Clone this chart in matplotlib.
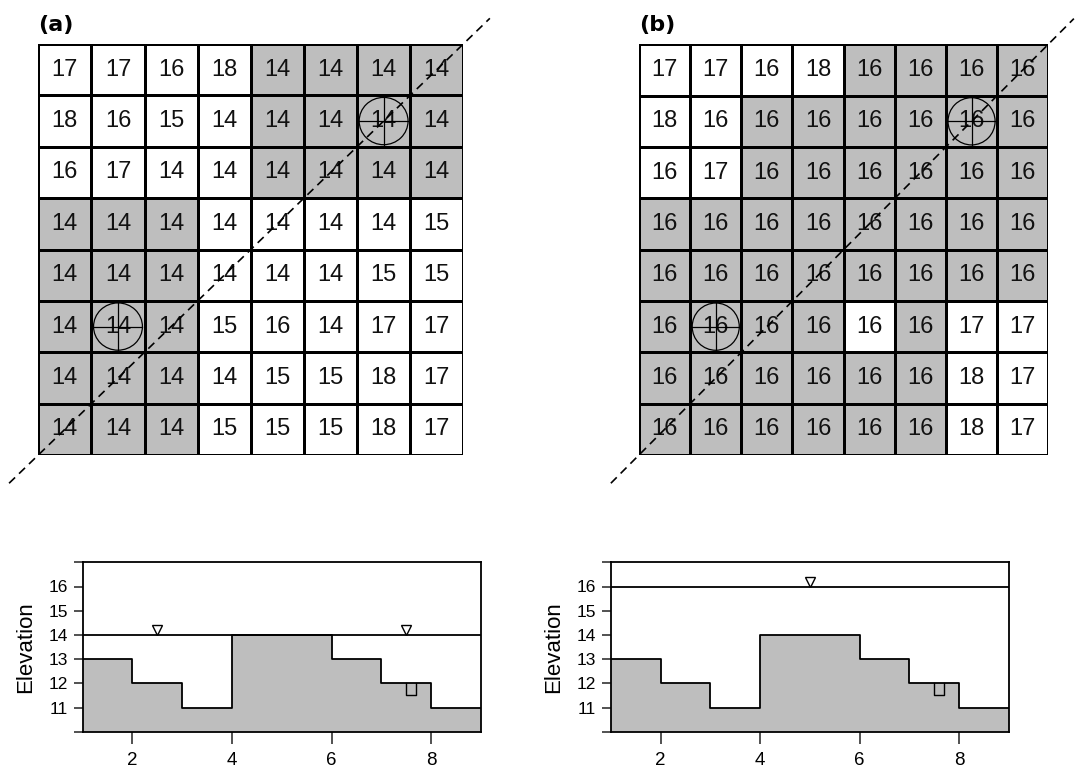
import matplotlib
matplotlib.use("Agg")
import matplotlib.pyplot as plt
import numpy as np
from matplotlib.colors import ListedColormap
from matplotlib.patches import Circle
from matplotlib import transforms

plt.rcParams['font.family'] = ['Liberation Sans', 'DejaVu Sans']

# cell elevations for the two scenarios (row 0 = top row)
elev_a = [[17, 17, 16, 18, 14, 14, 14, 14],
          [18, 16, 15, 14, 14, 14, 14, 14],
          [16, 17, 14, 14, 14, 14, 14, 14],
          [14, 14, 14, 14, 14, 14, 14, 15],
          [14, 14, 14, 14, 14, 14, 15, 15],
          [14, 14, 14, 15, 16, 14, 17, 17],
          [14, 14, 14, 14, 15, 15, 18, 17],
          [14, 14, 14, 15, 15, 15, 18, 17]]
elev_b = [[17, 17, 16, 18, 16, 16, 16, 16],
          [18, 16, 16, 16, 16, 16, 16, 16],
          [16, 17, 16, 16, 16, 16, 16, 16],
          [16, 16, 16, 16, 16, 16, 16, 16],
          [16, 16, 16, 16, 16, 16, 16, 16],
          [16, 16, 16, 16, 16, 16, 17, 17],
          [16, 16, 16, 16, 16, 16, 18, 17],
          [16, 16, 16, 16, 16, 16, 18, 17]]

# 1 = cell belongs to a flooded (connected) region
flood_a = [[0, 0, 0, 0, 1, 1, 1, 1],
           [0, 0, 0, 0, 1, 1, 1, 1],
           [0, 0, 0, 0, 1, 1, 1, 1],
           [1, 1, 1, 0, 0, 0, 0, 0],
           [1, 1, 1, 0, 0, 0, 0, 0],
           [1, 1, 1, 0, 0, 0, 0, 0],
           [1, 1, 1, 0, 0, 0, 0, 0],
           [1, 1, 1, 0, 0, 0, 0, 0]]
flood_b = [[0, 0, 0, 0, 1, 1, 1, 1],
           [0, 0, 1, 1, 1, 1, 1, 1],
           [0, 0, 1, 1, 1, 1, 1, 1],
           [1, 1, 1, 1, 1, 1, 1, 1],
           [1, 1, 1, 1, 1, 1, 1, 1],
           [1, 1, 1, 1, 0, 1, 0, 0],
           [1, 1, 1, 1, 1, 1, 0, 0],
           [1, 1, 1, 1, 1, 1, 0, 0]]

# wells (row, col)
wells = [(1, 6), (5, 1)]

# cross-section profile along the diagonal
prof_x = [1, 2, 3, 4, 5, 6, 7, 8, 9]
prof_z = [13, 12, 11, 14, 14, 13, 12, 11]
well_x = [7.5, 7.7]
well_bottom = 11.5
water_a = 14
water_a_marks = [2.5, 7.5]
water_b = 16
water_b_marks = [5]

GREY = '#BEBEBE'
W, H = 1081, 771

fig = plt.figure(figsize=(W / 100, H / 100), dpi=100)


def px_axes(left, top, right, bottom):
    return fig.add_axes([left / W, 1 - bottom / H, (right - left) / W, (bottom - top) / H])


def draw_grid(ax, elev, flood, label):
    elev = np.array(elev)
    n = elev.shape[0]
    ax.pcolormesh(np.arange(n + 1), np.arange(n + 1), np.array(flood),
                  cmap=ListedColormap(['white', GREY]), vmin=0, vmax=1,
                  edgecolors='black', linewidth=2.0)
    ax.set_xlim(0, n)
    ax.set_ylim(n, 0)
    ax.axis('off')
    for r in range(n):
        for c in range(n):
            ax.text(c + 0.5, r + 0.5, str(elev[r, c]), ha='center', va='center',
                    fontsize=17, color='#111111')
    # diagonal transect
    ax.plot([-0.55, n + 0.5], [n + 0.55, -0.5], color='black', lw=1.2,
            linestyle=(0, (5, 3.3)), clip_on=False, zorder=5)
    for r, c in wells:
        cx, cy = c + 0.5, r + 0.5
        ax.add_patch(Circle((cx, cy), 0.46, fill=False, lw=0.9, color='black', zorder=6))
        ax.plot([cx - 0.46, cx + 0.46], [cy, cy], color='black', lw=0.9, zorder=6)
        ax.plot([cx, cx], [cy - 0.46, cy + 0.46], color='black', lw=0.9, zorder=6)
    ax.text(0, -0.37, label, ha='left', va='center', fontsize=16, fontweight='bold',
            family='DejaVu Sans', transform=ax.transData, clip_on=False)


def draw_profile(ax, level, marks):
    z = prof_z + [prof_z[-1]]
    ax.fill_between(prof_x, z, 10, step='post', color=GREY, lw=0)
    ax.step(prof_x, z, where='post', color='black', lw=1.3)
    ax.plot([well_x[0], well_x[0], well_x[1], well_x[1]],
            [prof_z[6], well_bottom, well_bottom, prof_z[6]], color='black', lw=1.0)
    ax.axhline(level, color='black', lw=1.3)
    up = transforms.offset_copy(ax.transData, fig=fig, x=0, y=5, units='dots')
    ax.plot(marks, [level] * len(marks), linestyle='none', marker='v', ms=7.5,
            mfc='white', mec='black', mew=1.0, transform=up, clip_on=False)
    ax.set_xlim(1, 9)
    ax.set_ylim(10, 17)
    ax.set_xticks([2, 4, 6, 8])
    ax.set_yticks(range(10, 18))
    ax.set_yticklabels([''] + [str(v) for v in range(11, 17)] + [''])
    ax.tick_params(axis='both', width=1.1, color='#222222')
    ax.tick_params(axis='x', length=8.3, pad=6, labelsize=13.5)
    ax.tick_params(axis='y', length=6.7, pad=4, labelsize=12.5)
    for s in ax.spines.values():
        s.set_linewidth(1.3)
    ax.set_ylabel('Elevation', fontsize=16, labelpad=9)


draw_grid(px_axes(38.3, 44, 463.3, 455), elev_a, flood_a, '(a)')
draw_grid(px_axes(639, 44.3, 1048.3, 455), elev_b, flood_b, '(b)')
draw_profile(px_axes(82.7, 562.3, 481, 731.7), water_a, water_a_marks)
draw_profile(px_axes(611, 562.3, 1008.7, 731.7), water_b, water_b_marks)

fig.savefig('out.png', dpi=100)
